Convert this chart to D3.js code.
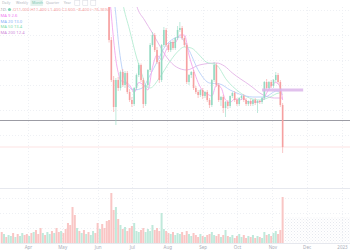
<!DOCTYPE html>
<html><head><meta charset="utf-8">
<script src="https://cdn.jsdelivr.net/npm/d3@7"></script>
<style>html,body{margin:0;padding:0;background:#fff;overflow:hidden}svg{display:block;font-family:"Noto Sans",Roboto,sans-serif}</style>
</head><body><svg id="c" width="350" height="250"></svg>
<script>
// ---------- data ----------
const candleStart = "2022-06-11";
const volumeStart = "2022-03-09";
const stepDays = 2;
const opens  = [34.0,24.0,16.0,10.6,16.0,14.4,17.6,15.0,17.4,13.6,12.0,11.2,14.4,17.0,19.0,16.0,11.2,15.0,18.0,23.0,25.0,22.0,19.6,16.0,23.0,26.0,23.0,22.0,23.6,22.4,24.4,26.0,26.4,24.4,23.0,15.6,17.0,17.6,14.4,13.6,13.0,14.0,12.8,13.6,12.0,11.0,16.0,19.0,15.0,12.0,12.6,10.4,11.6,10.8,12.8,13.4,12.0,11.2,12.4,12.8,12.0,11.2,11.8,11.2,12.0,11.4,11.8,11.6,12.4,15.6,14.4,15.6,14.8,16.0,17.0,15.6,11.0];
const highs  = [35.0,24.6,16.8,16.4,16.6,17.9,18.2,17.8,17.8,14.2,12.6,14.6,17.3,19.4,19.3,16.4,15.2,18.2,23.4,25.6,25.4,22.6,20.0,23.2,26.6,26.4,23.4,23.8,24.0,24.6,26.8,27.6,26.8,24.8,23.4,17.2,17.8,18.0,14.8,14.0,14.2,14.4,13.8,14.0,12.4,16.2,19.6,19.4,15.4,12.8,13.0,11.8,12.0,12.9,13.6,13.8,12.4,12.6,13.0,13.2,12.4,11.9,12.2,12.2,12.4,12.0,12.0,12.6,15.8,16.2,15.8,16.0,16.2,17.6,17.4,16.0,11.4];
const lows   = [23.5,15.6,9.6,7.0,13.8,13.9,14.6,14.4,13.2,11.6,10.6,10.8,14.0,16.6,15.6,10.4,10.8,14.6,17.6,22.6,21.6,19.2,15.4,15.6,22.6,22.6,21.6,21.6,22.0,22.0,24.0,25.6,24.0,22.6,15.2,15.0,16.4,14.0,13.2,12.4,12.6,12.2,12.4,11.6,10.4,10.6,15.6,14.6,11.6,10.8,9.4,8.6,10.2,10.4,12.4,11.6,10.8,10.8,12.0,11.6,10.8,10.8,10.8,10.8,11.0,9.4,11.2,11.2,12.0,14.0,14.0,14.4,14.4,15.6,15.2,10.6,1.4];
const closes = [24.0,16.0,10.6,16.0,14.4,17.6,15.0,17.4,13.6,12.0,11.2,14.4,17.0,19.0,16.0,11.2,15.0,18.0,23.0,25.0,22.0,19.6,16.0,23.0,26.0,23.0,22.0,23.6,22.4,24.4,26.0,26.4,24.4,23.0,15.6,17.0,17.6,14.4,13.6,13.0,14.0,12.8,13.6,12.0,11.0,16.0,19.0,15.0,12.0,12.6,10.4,11.6,10.8,12.8,13.4,12.0,11.2,12.4,12.8,12.0,11.2,11.8,11.2,12.0,11.4,11.8,11.6,12.4,15.6,14.4,15.6,14.8,16.0,17.0,15.6,11.0,2.6];
const volumes = [11,9,6,8,7,10,6,9,7,10,8,9,7,10,11,13,9,15,10,8,11,9,12,10,15,11,12,10,14,20,18,36,28,15,12,10,13,9,11,8,12,10,20,14,19,15,22,
  23,50,33,36,24,18,14,16,12,15,17,20,12,11,13,15,11,14,12,18,13,15,12,30,14,12,10,9,11,8,10,9,11,8,12,9,7,10,8,6,9,7,6,8,9,11,8,7,9,6,8,13,7,6,8,5,7,9,6,8,5,7,6,8,5,7,6,5,11,8,9,7,10,12,9,13,46];
const earlyVolumeDirection = ["d","u","d","u","u","d","u","d","u","u","d","d","u","d","u","d","d","d","u","d","u","u","d","u","d","d","u","d","d","d","d","d","d","u","d","u","d","u","d","u","u","d","d","u","d","d","d"];
const maShort  = [[0,34],[1,29],[2,24],[3,20],[4,17.5],[5,16],[7,15.5],[9,15],[11,13.5],[13,15.5],[15,15],[17,14],[19,18.5],[21,21],[23,20],[25,22],[27,23.5],[29,23.5],[31,25],[33,25],[35,21],[37,18],[39,15.5],[41,13.8],[43,13.2],[45,12.8],[47,15],[49,14.5],[51,12],[53,11.5],[55,12.2],[57,12],[59,12.3],[61,11.6],[63,11.6],[65,11.6],[67,11.8],[69,13.4],[71,14.8],[73,15.5],[75,14.5],[76,12]];
const maMid    = [[1.5,34],[2.6,31],[4.8,22],[7,16],[11.4,14],[14.9,14.4],[18,17],[21,19.6],[25.4,23],[31,24.6],[34.6,22.4],[39.9,17.6],[44.2,15.4],[48.6,15.2],[53,14],[57.4,13.2],[63,12.6],[68.3,12.6],[73.6,13.8],[76.2,13]];
const maSlow   = [[5,34],[6.1,31.4],[9.2,26],[12.3,20.6],[14.9,17],[16.6,14.6],[18,14.4],[22.3,16.4],[26.7,19.6],[29.8,21.4],[33.3,22.6],[36.4,22.4],[39.9,21],[42.9,19.6],[47.3,19],[51.7,16],[57.4,13.6],[61.8,12.4],[66.1,12],[70.5,12.6],[74.9,13.4],[76.2,13.4]];
const maLong   = [[10.5,34],[12.3,31],[15.8,28],[19.3,25.4],[22.3,23],[25.8,20.4],[29.8,18.6],[34.2,18],[39.9,19],[47.3,19.4],[50.8,18.8],[54.3,17.4],[61.8,15],[67.5,13],[72.7,12.4],[76.2,12.4]];
const maNames  = ["MA 9","MA 20","MA 50","MA 200"];
const maValues = ["2.6","13.0","13.4","12.4"];
const hLinePrice = 7.9;
const zoneFrom = "2022-10-23", zoneTo = "2022-11-28", zonePrice = 14.0;
const tickDates  = ["2022-04-01","2022-05-01","2022-06-01","2022-07-01","2022-08-01","2022-09-01","2022-10-01","2022-11-01","2022-12-01","2023-01-01"];
const tickLabels = ["Apr","May","Jun","Jul","Aug","Sep","Oct","Nov","Dec","2023"];
const priceGrid = [5,10,15,20,25,30];
const volGrid = [15,30,45];
const toolbarLabels = ["Daily","Weekly","Month","Quarter","Year"];

// ---------- chart ----------
const W = 350, H = 250;
const paneTop = 7, paneBottom = 188, volBase = 243;
const parse = d3.timeParse("%Y-%m-%d");
const svg = d3.select("#c");
const RED = "#f6a0a0", GREEN = "#94dac2", VRED = "#f9c6c5", VGREEN = "#c0e9db";

const x = d3.scaleTime().domain([new Date(2022,2,7,12), new Date(2023,0,8)]).range([0, W]);
const y = d3.scaleLinear().domain([0, 30]).range([160, 10]);
const yv = d3.scaleLinear().domain([0, 50]).range([volBase, 193]);

const cStart = parse(candleStart), vStart = parse(volumeStart);
const candles = closes.map((c, i) => ({d: d3.timeDay.offset(cStart, i*stepDays), o: opens[i], h: highs[i], l: lows[i], c}));
const vols = volumes.map((v, i) => {
  const d = d3.timeDay.offset(vStart, i*stepDays);
  const ci = i - earlyVolumeDirection.length;
  const up = ci >= 0 ? candles[ci].c >= candles[ci].o : earlyVolumeDirection[i] === "u";
  return {d, v, up};
});

const defs = svg.append("defs");
defs.append("clipPath").attr("id","pc").append("rect").attr("x",0).attr("y",paneTop).attr("width",W).attr("height",paneBottom-paneTop);
const pat = defs.append("pattern").attr("id","hatch").attr("width",3).attr("height",3).attr("patternUnits","userSpaceOnUse");
pat.append("rect").attr("width",1).attr("height",1).attr("fill","#e6e8ee");
pat.append("rect").attr("x",1.5).attr("y",1.5).attr("width",1).attr("height",1).attr("fill","#eef0f4");

// grid
const gx = tickDates.map(parse);
svg.append("g").selectAll("line").data(gx).join("line")
  .attr("x1", d => Math.round(x(d))+0.5).attr("x2", d => Math.round(x(d))+0.5)
  .attr("y1", paneTop).attr("y2", volBase)
  .attr("stroke","#eef0f4").attr("stroke-dasharray","1,2");
svg.append("g").selectAll("line").data(priceGrid).join("line")
  .attr("x1",0).attr("x2",W).attr("y1", d => Math.round(y(d))+0.5).attr("y2", d => Math.round(y(d))+0.5)
  .attr("stroke","#eef0f4").attr("stroke-dasharray","1,2");
svg.append("g").selectAll("line").data(volGrid).join("line")
  .attr("x1",0).attr("x2",W).attr("y1", d => Math.round(yv(d))+0.5).attr("y2", d => Math.round(yv(d))+0.5)
  .attr("stroke","#eef0f4").attr("stroke-dasharray","1,2");

// hatched future area in volume pane
const lastD = vols[vols.length-1].d;
svg.append("rect").attr("x", x(lastD)+2).attr("y", 217).attr("width", W - x(lastD) - 2).attr("height", volBase-217).attr("fill","url(#hatch)");

// volume bars
svg.append("g").selectAll("rect").data(vols).join("rect")
  .attr("x", d => x(d.d) - 1).attr("width", 2)
  .attr("y", d => yv(d.v)).attr("height", d => volBase - yv(d.v))
  .attr("fill", d => d.up ? VGREEN : VRED);

// separator + axis line
svg.append("line").attr("x1",0).attr("x2",W).attr("y1",paneBottom+0.5).attr("y2",paneBottom+0.5).attr("stroke","#e6e8ee");
const ax = svg.append("g").attr("transform",`translate(0,${volBase})`)
  .call(d3.axisBottom(x).tickValues(gx).tickFormat((d,i) => tickLabels[i]).tickSize(0).tickPadding(2.5));
ax.select(".domain").attr("stroke","#e6e8ee");
ax.selectAll("text").attr("font-size",4.5).attr("fill","#a9adb8").attr("font-family","'Noto Sans',Roboto,sans-serif");

// price pane
const pp = svg.append("g").attr("clip-path","url(#pc)");
pp.append("line").attr("x1",0).attr("x2",W).attr("y1", y(closes[closes.length-1])).attr("y2", y(closes[closes.length-1]))
  .attr("stroke","#fde3e3").attr("stroke-width",1);
pp.append("line").attr("x1",0).attr("x2",W).attr("y1", y(hLinePrice)).attr("y2", y(hLinePrice))
  .attr("stroke","#9c9ca4").attr("stroke-width",1);

// MAs
const cx = idx => x(d3.timeDay.offset(cStart, idx*stepDays));
const line = d3.line().x(d => cx(d[0])).y(d => y(d[1])).curve(d3.curveMonotoneX);
[[maLong,"#e3b3e6"],[maSlow,"#b5ecd2"],[maMid,"#b8cff8"],[maShort,"#f3a6ec"]].forEach(([data,col]) => {
  pp.append("path").datum(data).attr("d", line).attr("fill","none").attr("stroke",col).attr("stroke-width",0.9);
});

// candles
const cg = pp.append("g").selectAll("g").data(candles).join("g");
cg.append("line").attr("x1", d => x(d.d)).attr("x2", d => x(d.d))
  .attr("y1", d => y(d.h)).attr("y2", d => y(d.l))
  .attr("stroke", d => d.c >= d.o ? GREEN : RED).attr("stroke-width",0.6);
cg.append("rect").attr("x", d => x(d.d) - 0.8).attr("width",1.6)
  .attr("y", d => y(Math.max(d.o,d.c))).attr("height", d => Math.max(0.6, Math.abs(y(d.o)-y(d.c))))
  .attr("fill", d => d.c >= d.o ? GREEN : RED);

// zone drawing
pp.append("rect").attr("x", x(parse(zoneFrom))).attr("width", x(parse(zoneTo)) - x(parse(zoneFrom)))
  .attr("y", y(zonePrice) - 1.5).attr("height", 3).attr("fill","#dcb6ea").attr("opacity",0.85);

// toolbar
const tb = svg.append("g").attr("font-size",3.6).attr("fill","#b4b8c2");
let tx = 1;
toolbarLabels.forEach((t,i) => {
  const w = t.length*1.9 + 3;
  if (i===2) tb.append("rect").attr("x",tx-0.5).attr("y",0).attr("width",w).attr("height",6).attr("fill","#e3f3ee");
  tb.append("text").attr("x",tx+1).attr("y",4.3).text(t).attr("fill", i===2 ? "#7cc7b3" : "#b4b8c2");
  tx += w + 1.5;
});
[0,1,2].forEach(k => tb.append("rect").attr("x", tx + k*8).attr("y",0.5).attr("width",5).attr("height",5).attr("fill","none").attr("stroke","#d5d8df").attr("stroke-width",0.5));

// legend
const lg = svg.append("g").attr("font-size",4.2);
lg.append("text").attr("x",0.5).attr("y",11).attr("fill","#9aa0ab").text("1D");
lg.append("circle").attr("cx",9.5).attr("cy",9.5).attr("r",1.6).attr("fill","#7fd3b6");
const last = candles[candles.length-1];
lg.append("text").attr("x",13).attr("y",11).attr("fill","#f6a2a2")
  .text(`O${last.o.toFixed(3)} H${last.h.toFixed(3)} L${last.l.toFixed(3)} C${last.c.toFixed(3)} −8.400 (−76.36%)`);
const maCols = ["#f07cf0","#8ab4f8","#7fdcaa","#cf8ad9"];
maNames.forEach((n,i) => {
  lg.append("text").attr("x",0.5).attr("y",17 + i*5.6).attr("fill",maCols[i]).text(`${n} ${maValues[i]}`);
});
</script></body></html>
